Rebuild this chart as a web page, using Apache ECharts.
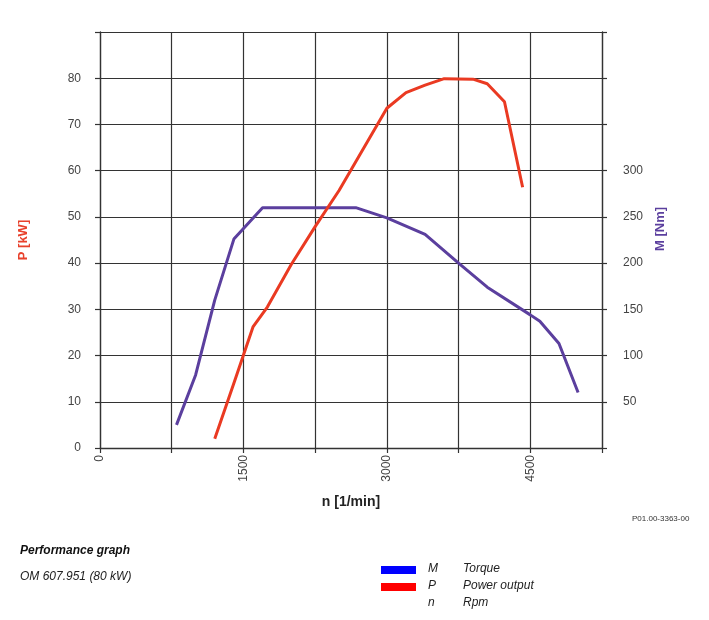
<!DOCTYPE html>
<html>
<head>
<meta charset="utf-8">
<script src="https://cdn.jsdelivr.net/npm/echarts@6/dist/echarts.min.js"></script>
<style>
    html, body {margin: 0; padding: 0; background: #fff;}
    #main {width: 709px; height: 620px;}
</style>
</head>
<body>
<div id="main"></div>
<script>
// engine speed n [1/min] vs torque M [Nm]
var torqueRpm = [800, 1000, 1200, 1400, 1700, 2675, 3000, 3400, 3750, 4050, 4500, 4600, 4800, 5000];
var torqueNm = [25, 79, 160, 226, 260, 260, 249, 231, 200, 174, 144, 137, 113, 60];

// engine speed n [1/min] vs power P [kW]
var powerRpm = [1200, 1400, 1600, 1750, 2000, 2250, 2500, 3000, 3200, 3400, 3600, 3900, 4050, 4230, 4420];
var powerKw = [2, 14, 26.2, 30.5, 39.7, 47.9, 55.7, 73.5, 76.9, 78.5, 79.9, 79.8, 78.8, 74.9, 56.4];

var xLabels = [0, 1500, 3000, 4500];
var pLabels = [0, 10, 20, 30, 40, 50, 60, 70, 80];
var mLabels = [50, 100, 150, 200, 250, 300];

var FONT = "'Liberation Sans', Arial, sans-serif";
var NARROW = "'Liberation Sans Narrow', 'Liberation Sans', Arial, sans-serif";

function pairs(xs, ys) {
    var out = [];
    for (var i = 0; i < xs.length; i++) {
        out.push([xs[i], ys[i]]);
    }
    return out;
}

var chart = echarts.init(document.getElementById("main"));

chart.setOption({
    backgroundColor: '#fff',
    animation: false,
    grid: {left: 100, right: 107, top: 32, bottom: 172},
    xAxis: {
        type: 'value',
        min: 0,
        max: 5250,
        interval: 750,
        name: 'n [1/min]',
        nameLocation: 'middle',
        nameGap: 47,
        nameTextStyle: {color: '#222', fontSize: 14, fontWeight: 'bold', fontFamily: FONT},
        axisLine: {lineStyle: {color: '#333', width: 1.3}},
        axisTick: {length: 5, lineStyle: {color: '#333', width: 1.2}},
        axisLabel: {
            rotate: 90,
            margin: 7,
            color: '#444',
            fontSize: 12,
            fontFamily: FONT,
            formatter: function (v) {
                return xLabels.indexOf(v) >= 0 ? String(v) : '';
            }
        },
        splitLine: {show: true, lineStyle: {color: '#333', width: 1.2}}
    },
    yAxis: [
        {
            type: 'value',
            min: 0,
            max: 90,
            interval: 10,
            name: 'P [kW]',
            nameLocation: 'middle',
            nameRotate: 90,
            nameGap: 70,
            nameTextStyle: {color: '#e8412c', fontSize: 13, fontWeight: 'bold', fontFamily: FONT},
            axisLine: {show: true, lineStyle: {color: '#333', width: 1.3}},
            axisTick: {show: true, length: 5, lineStyle: {color: '#333', width: 1.2}},
            axisLabel: {
                margin: 19,
                color: '#444',
                fontSize: 12,
                fontFamily: FONT,
                formatter: function (v) {
                    return pLabels.indexOf(v) >= 0 ? String(v) : '';
                }
            },
            splitLine: {show: true, lineStyle: {color: '#333', width: 1.2}}
        },
        {
            type: 'value',
            min: 0,
            max: 450,
            interval: 50,
            position: 'right',
            name: 'M [Nm]',
            nameLocation: 'middle',
            nameRotate: 90,
            nameGap: 48,
            nameTextStyle: {color: '#5b3f9e', fontSize: 13, fontWeight: 'bold', fontFamily: FONT, padding: [0, 0, 0, 22]},
            axisLine: {show: true, lineStyle: {color: '#333', width: 1.3}},
            axisTick: {show: true, length: 5, lineStyle: {color: '#333', width: 1.2}},
            axisLabel: {
                margin: 21,
                color: '#444',
                fontSize: 12,
                fontFamily: FONT,
                formatter: function (v) {
                    return mLabels.indexOf(v) >= 0 ? String(v) : '';
                }
            },
            splitLine: {show: false}
        }
    ],
    series: [
        {
            name: 'M',
            type: 'line',
            yAxisIndex: 1,
            showSymbol: false,
            data: pairs(torqueRpm, torqueNm),
            lineStyle: {color: '#5b3f9e', width: 3},
            itemStyle: {color: '#5b3f9e'}
        },
        {
            name: 'P',
            type: 'line',
            yAxisIndex: 0,
            showSymbol: false,
            data: pairs(powerRpm, powerKw),
            lineStyle: {color: '#ea3a22', width: 3},
            itemStyle: {color: '#ea3a22'}
        }
    ],
    graphic: [
        {type: 'text', left: 632, top: 515,
            style: {text: 'P01.00-3363-00', fill: '#333', font: '8px ' + NARROW}},
        {type: 'text', left: 20, top: 545,
            style: {text: 'Performance graph', fill: '#111', font: 'italic bold 12px ' + NARROW}},
        {type: 'text', left: 20, top: 571,
            style: {text: 'OM 607.951 (80 kW)', fill: '#222', font: 'italic 12px ' + NARROW}},
        {type: 'rect', left: 381, top: 566, shape: {width: 35, height: 8}, style: {fill: '#0000ff'}},
        {type: 'rect', left: 381, top: 583, shape: {width: 35, height: 8}, style: {fill: '#ff0000'}},
        {type: 'text', left: 428, top: 563, style: {text: 'M', fill: '#222', font: 'italic 12px ' + NARROW}},
        {type: 'text', left: 463, top: 563, style: {text: 'Torque', fill: '#222', font: 'italic 12px ' + NARROW}},
        {type: 'text', left: 428, top: 580, style: {text: 'P', fill: '#222', font: 'italic 12px ' + NARROW}},
        {type: 'text', left: 463, top: 580, style: {text: 'Power output', fill: '#222', font: 'italic 12px ' + NARROW}},
        {type: 'text', left: 428, top: 597, style: {text: 'n', fill: '#222', font: 'italic 12px ' + NARROW}},
        {type: 'text', left: 463, top: 597, style: {text: 'Rpm', fill: '#222', font: 'italic 12px ' + NARROW}}
    ]
});
</script>
</body>
</html>
